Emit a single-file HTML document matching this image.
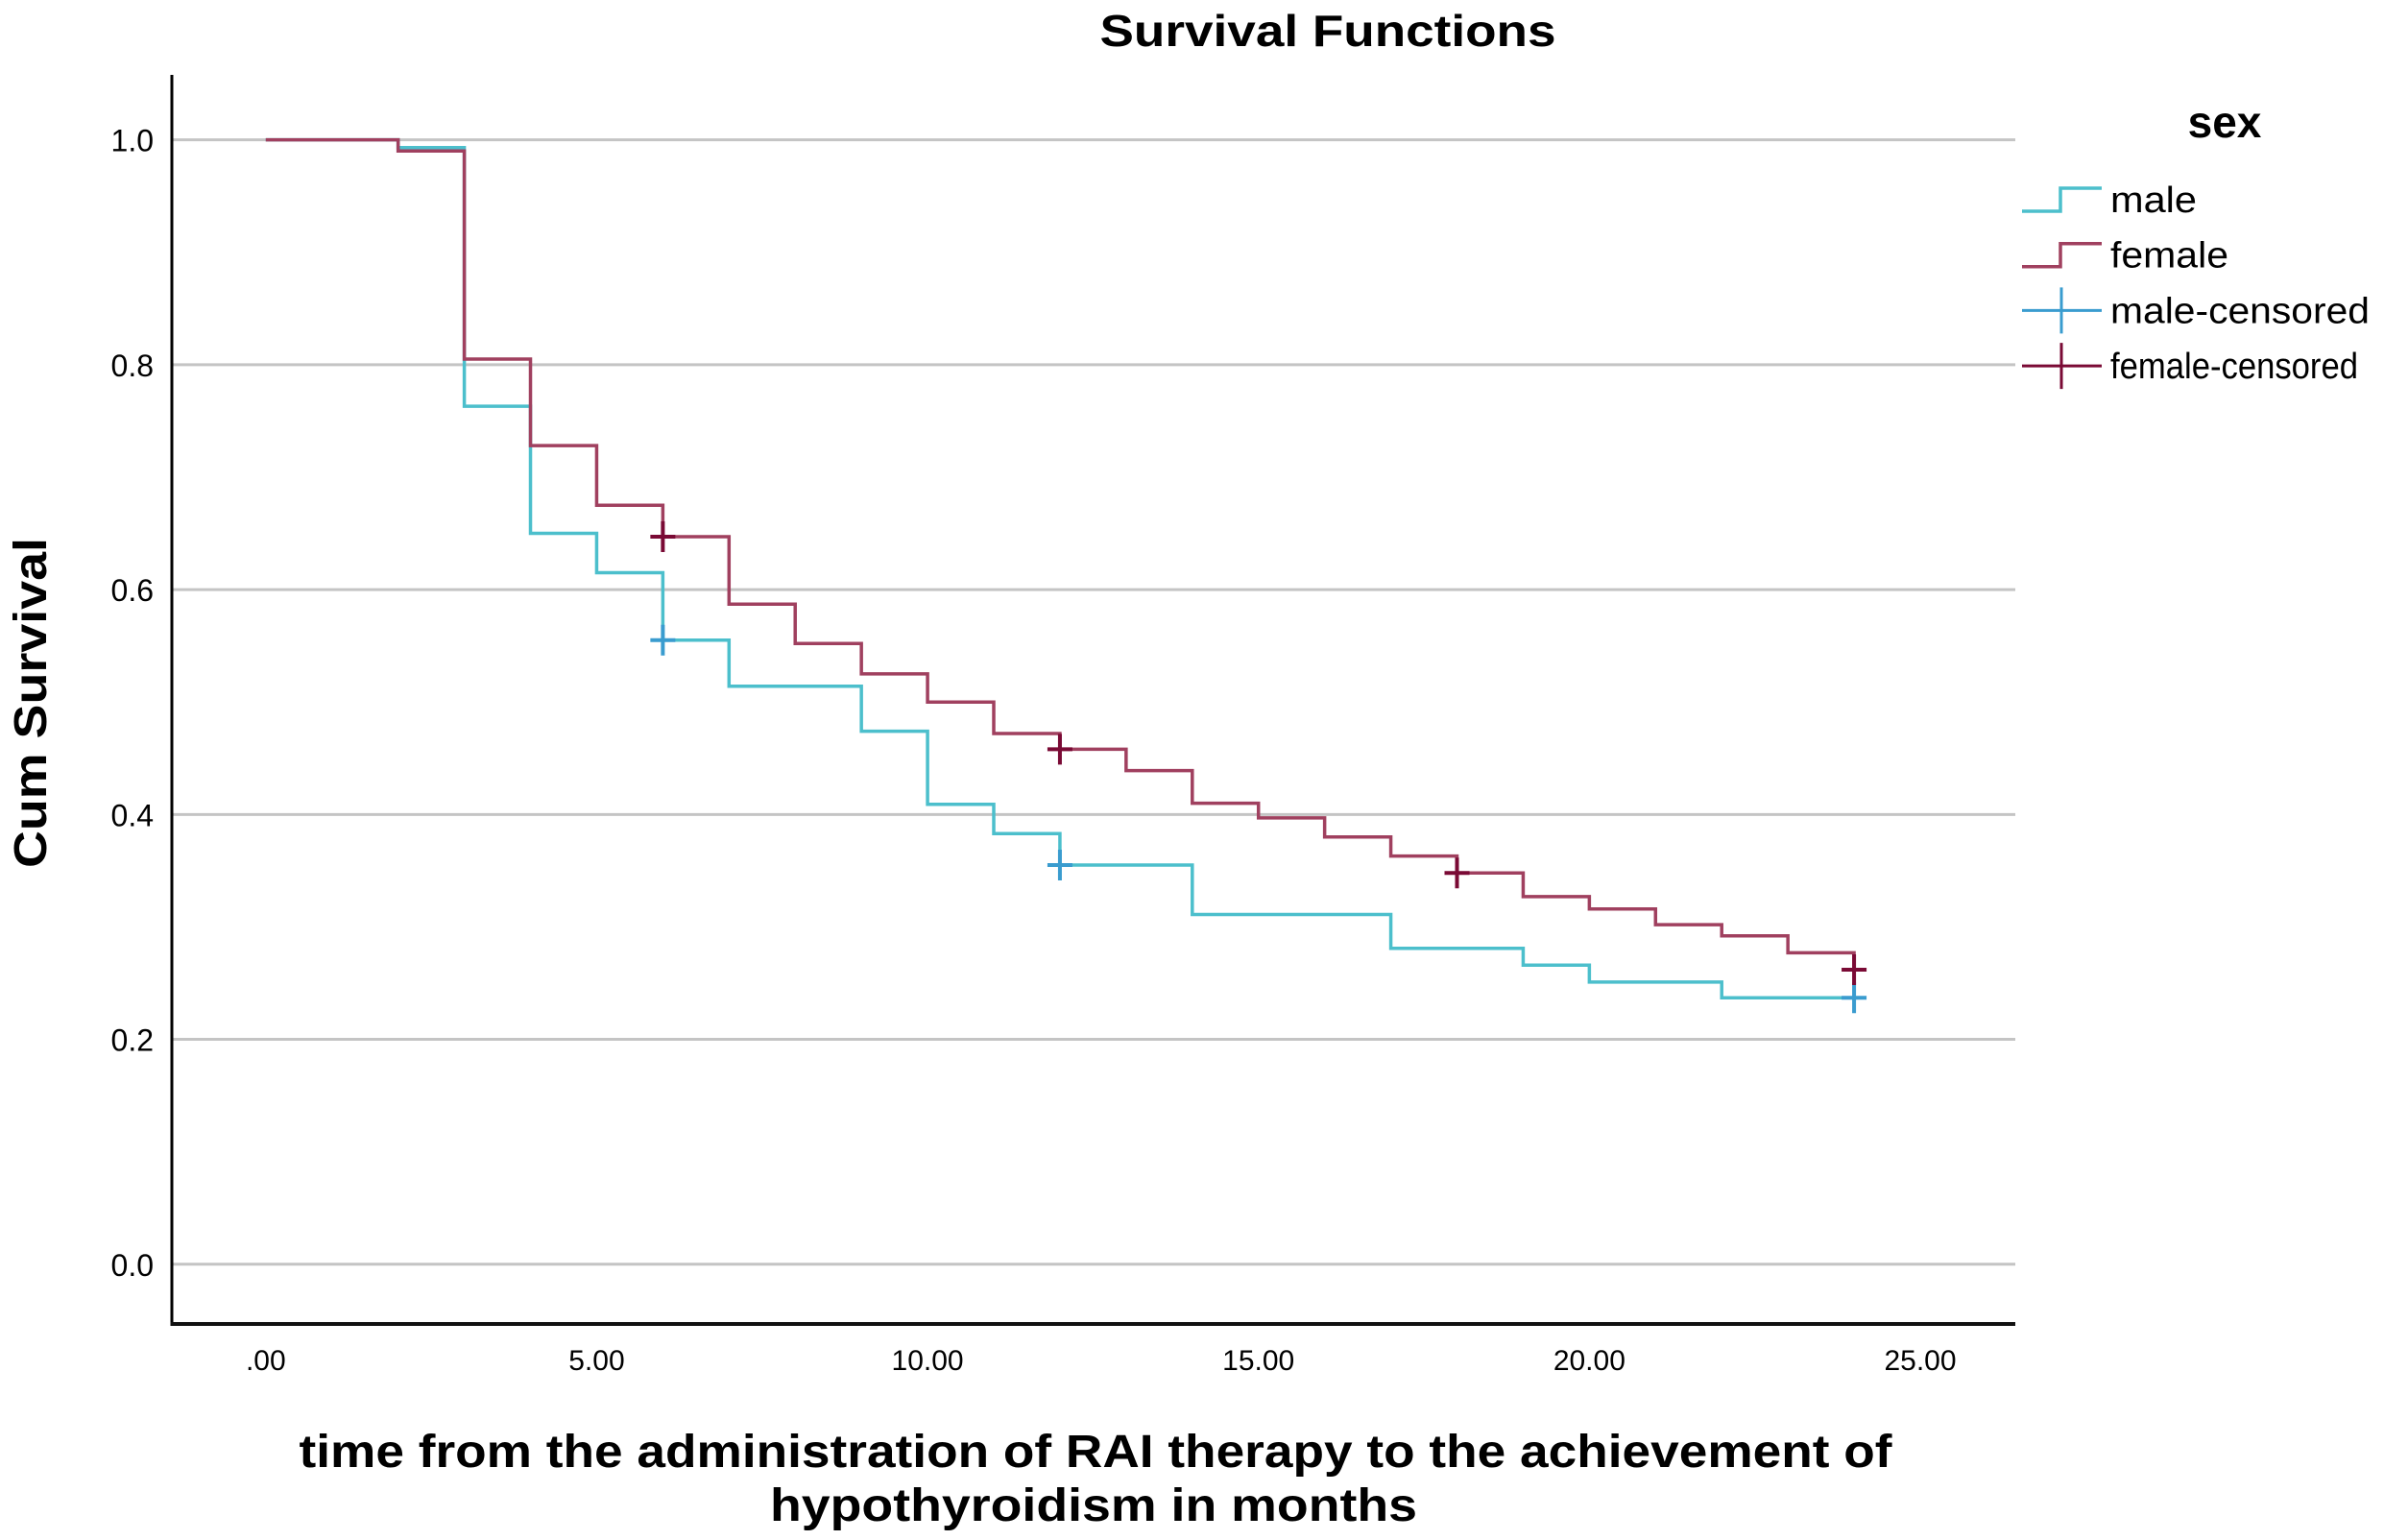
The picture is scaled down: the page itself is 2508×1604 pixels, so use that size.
<!DOCTYPE html>
<html><head><meta charset="utf-8"><style>
html,body{margin:0;padding:0;background:#fff;}
svg{display:block;font-family:"Liberation Sans",Arial,sans-serif;}
</style></head><body>
<svg id="chart" width="2508" height="1604" viewBox="0 0 2508 1604" xmlns="http://www.w3.org/2000/svg">
<text x="1383" y="48" font-size="46" font-weight="bold" text-anchor="middle" textLength="475" lengthAdjust="spacingAndGlyphs">Survival Functions</text>
<g id="grid"></g><g id="axes"></g><g id="series"></g>
<text transform="translate(48,732) rotate(-90)" font-size="48" font-weight="bold" text-anchor="middle" textLength="344" lengthAdjust="spacingAndGlyphs">Cum Survival</text>
<text x="1141" y="1528" font-size="48" font-weight="bold" text-anchor="middle" textLength="1659" lengthAdjust="spacingAndGlyphs">time from the administration of RAI therapy to the achievement of</text>
<text x="1139" y="1584" font-size="48" font-weight="bold" text-anchor="middle" textLength="674" lengthAdjust="spacingAndGlyphs">hypothyroidism in months</text>
<g id="legend">
<text x="2317" y="143" font-size="46" font-weight="bold" text-anchor="middle">sex</text>
</g>
</svg>
<script>
const yTicks = [0, 0.2, 0.4, 0.6, 0.8, 1.0];
const yTickLabels = ["0.0","0.2","0.4","0.6","0.8","1.0"];
const xTicks = [0, 5, 10, 15, 20, 25];
const xTickLabels = [".00","5.00","10.00","15.00","20.00","25.00"];
const maleTimes = [0, 2, 3, 4, 5, 6, 7, 9, 10, 11, 12, 14, 17, 19, 20, 22, 24];
const maleSurv  = [1.0, 0.993, 0.763, 0.65, 0.615, 0.555, 0.514, 0.474, 0.409, 0.383, 0.355, 0.311, 0.281, 0.266, 0.251, 0.237, 0.237];
const femaleTimes = [0, 2, 3, 4, 5, 6, 7, 8, 9, 10, 11, 12, 13, 14, 15, 16, 17, 18, 19, 20, 21, 22, 23, 24];
const femaleSurv  = [1.0, 0.99, 0.805, 0.728, 0.675, 0.647, 0.587, 0.552, 0.525, 0.5, 0.472, 0.458, 0.439, 0.41, 0.397, 0.38, 0.363, 0.348, 0.327, 0.316, 0.302, 0.292, 0.277, 0.262];
const maleCensorT = [6, 12, 24];
const maleCensorS = [0.555, 0.355, 0.237];
const femaleCensorT = [6, 12, 18, 24];
const femaleCensorS = [0.647, 0.458, 0.348, 0.262];

const NS = "http://www.w3.org/2000/svg";
const X = t => 276.8 + t * (2000 - 276.8) / 25;
const Y = v => 1316.8 - v * (1316.8 - 145.6);
function mk(tag, attrs, parent){const e=document.createElementNS(NS,tag);for(const k in attrs)e.setAttribute(k,attrs[k]);parent.appendChild(e);return e;}
const grid=document.getElementById('grid'), axes=document.getElementById('axes'), series=document.getElementById('series'), legend=document.getElementById('legend');

yTicks.forEach((v,i)=>{
  const l=mk('line',{x1:179,x2:2099,y1:Y(v),y2:Y(v),stroke:'#c4c4c4','stroke-width':3},grid);
  
  
  const t=mk('text',{x:160,y:Y(v)+12,'font-size':32,'text-anchor':'end'},axes);
  t.textContent=yTickLabels[i];
  
  
});
xTicks.forEach((v,i)=>{
  const t=mk('text',{x:X(v),y:1427,'font-size':30,'text-anchor':'middle'},axes);
  t.textContent=xTickLabels[i];
  
  
});
const ya=mk('line',{x1:179,x2:179,y1:78,y2:1380,stroke:'#000','stroke-width':3},axes);


const xa=mk('line',{x1:177.5,x2:2099,y1:1379,y2:1379,stroke:'#111','stroke-width':4},axes);



function stepPath(T,S){
  let d='M'+X(T[0])+','+Y(S[0]);
  for(let i=1;i<T.length;i++){d+=' H'+X(T[i])+' V'+Y(S[i]);}
  return d;
}
const mp=mk('path',{d:stepPath(maleTimes,maleSurv),fill:'none',stroke:'#4cbfcc','stroke-width':3.5},series);


const fp=mk('path',{d:stepPath(femaleTimes,femaleSurv),fill:'none',stroke:'#a0405f','stroke-width':3.5},series);



function cross(x,y,col,parent,name){
  const g=mk('path',{d:`M${x-13},${y} H${x+13} M${x},${y-16} V${y+16}`,stroke:col,'stroke-width':4,fill:'none'},parent);
  
  
}
maleCensorT.forEach((t,i)=>cross(X(t),Y(maleCensorS[i]),'#3a9ccf',series,'male-censored-mark'));
femaleCensorT.forEach((t,i)=>cross(X(t),Y(femaleCensorS[i]),'#7a0a35',series,'female-censored-mark'));

const leg=[["male","#4cbfcc","step",90],["female","#a0405f","step",123],["male-censored","#3a9ccf","cross",270],["female-censored","#7a0a35","cross",258]];
leg.forEach((e,i)=>{
  const cy=208+i*57.7;
  let p;
  if(e[2]==='step') p=mk('path',{d:`M2106,${cy+12} H2146 V${cy-12} H2189`,stroke:e[1],'stroke-width':3.5,fill:'none'},legend);
  else p=mk('path',{d:`M2106,${cy} H2189 M2147,${cy-24} V${cy+24}`,stroke:e[1],'stroke-width':3,fill:'none'},legend);
  
  
  const t=mk('text',{x:2198,y:cy+13,'font-size':38,textLength:e[3],lengthAdjust:'spacingAndGlyphs'},legend);
  t.textContent=e[0];
  
  
});
</script>
</body></html>
